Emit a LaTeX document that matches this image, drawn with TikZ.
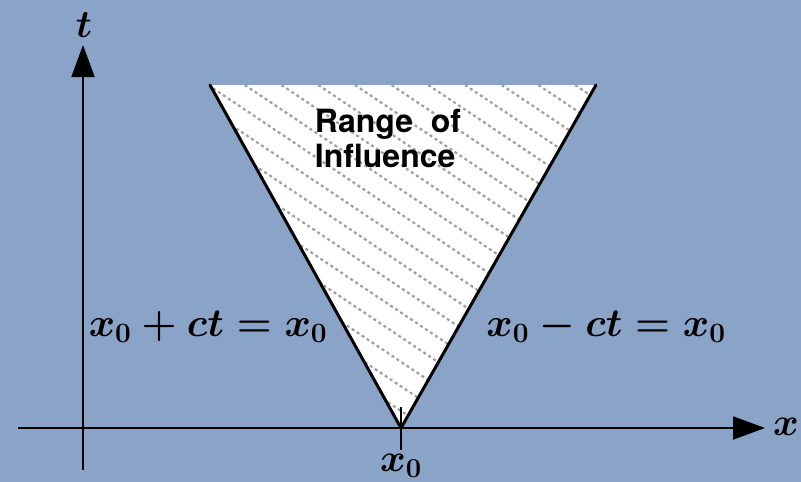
\documentclass[tikz,border=0pt]{standalone}
\usepackage{fix-cm}
\usepackage{fontspec}
\setsansfont{TeX Gyre Heros}
\usetikzlibrary{arrows.meta, positioning, calc}
\definecolor{bgblue}{HTML}{8AA4C8}
\definecolor{hatchgray}{HTML}{A0A0A0}

\begin{document}
\begin{tikzpicture}[
    x=1pt, y=-1pt,
    axis/.style={draw=black, line width=2pt, -{Triangle[length=32pt, width=23pt]}},
    side/.style={draw=black, line width=3pt, line cap=round},
    hatchline/.style={draw=hatchgray, line width=2.2pt, dash pattern=on 3pt off 3pt},
    eqn/.style={font=\fontsize{40}{46}\selectfont\boldmath, inner sep=0pt},
    lbl/.style={font=\fontsize{39}{45}\selectfont\boldmath, inner sep=0pt},
]

% ---- background ----
\fill[bgblue] (0,0) rectangle (801,482);

% ---- corners of the cone ----
\coordinate (topleft)  at (210,85);
\coordinate (topright) at (596,85);
\coordinate (apex)     at (401,428);

% ---- axes ----
\coordinate (tstart) at (83,470);
\coordinate (tend)   at (83,45);
\coordinate (xstart) at (18,428);
\coordinate (xend)   at (765,428);
\draw[axis] (tstart) -- (tend);
\draw[axis] (xstart) -- (xend);

% ---- hatched cone ----
\fill[white] (topleft) -- (topright) -- (apex) -- cycle;
\begin{scope}
    \clip (topleft) -- (topright) -- (apex) -- cycle;
    \foreach \k in {-7,...,20} {
        \pgfmathsetmacro{\xt}{-85.5+\k*36.7}
        \draw[hatchline] (\xt,85) -- ++(500,335);
    }
\end{scope}
\draw[side] (topleft) -- (apex) -- (topright);

% ---- tick at x0 ----
\coordinate (tickup)   at (401,407);
\coordinate (tickdown) at (401,450);
\draw[line width=2pt] (tickup) -- (tickdown);

% ---- labels ----
\node[lbl] (tlabel) at (84,25) {$t$};
\node[lbl] (xlabel) at (786,427) {$x$};
\node[lbl, below=4pt of tickdown] (xzero) {$x_0$};
\node[eqn] (leftline)  at (208,327) {$x_0+ct=x_0$};
\node[eqn] (rightline) at (606,327) {$x_0-ct=x_0$};
\node[font=\sffamily\bfseries\fontsize{32}{35}\selectfont, align=left, inner sep=0pt]
    (range) at (388,138) {Range\ \ of\\Influence};

\end{tikzpicture}
\end{document}
